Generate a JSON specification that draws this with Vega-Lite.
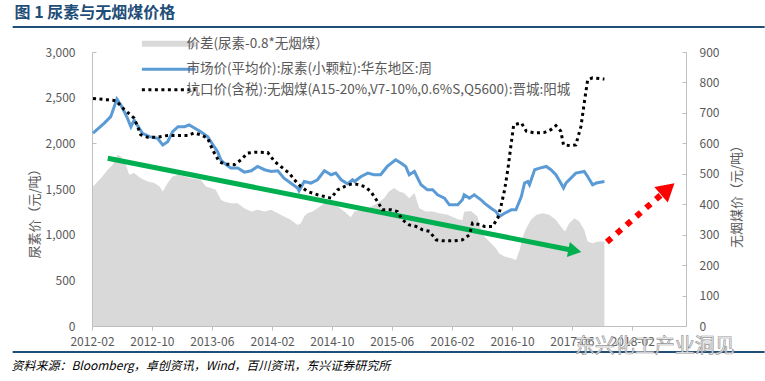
{
  "$schema": "https://vega.github.io/schema/vega-lite/v6.json",
  "width": 594,
  "height": 274,
  "autosize": {"type": "none"},
  "padding": {"left": 92, "top": 52, "right": 79, "bottom": 55},
  "background": "white",
  "config": {
    "view": {"stroke": null},
    "font": "Noto Sans CJK SC",
    "axis": {"domainColor": "#bfbfbf", "tickColor": "#bfbfbf", "labelColor": "#595959", "labelFontSize": 12, "labelFont": "Noto Sans CJK SC", "titleColor": "#595959", "titleFontWeight": "normal", "titleFontSize": 13, "titleFont": "Noto Sans CJK SC", "grid": false}
  },
  "datasets": {
    "spread": [
      {"d":"2012-02-05","v":1527},{"d":"2012-03-08","v":1619},{"d":"2012-04-05","v":1711},{"d":"2012-04-25","v":1765},{"d":"2012-05-15","v":1875},{"d":"2012-05-28","v":1857},{"d":"2012-06-17","v":1765},{"d":"2012-07-01","v":1656},{"d":"2012-07-21","v":1674},{"d":"2012-08-17","v":1619},{"d":"2012-09-14","v":1582},{"d":"2012-10-11","v":1565},{"d":"2012-11-01","v":1527},{"d":"2012-11-14","v":1473},{"d":"2012-12-04","v":1565},{"d":"2012-12-24","v":1637},{"d":"2013-01-15","v":1656},{"d":"2013-02-11","v":1637},{"d":"2013-03-08","v":1619},{"d":"2013-04-17","v":1601},{"d":"2013-05-08","v":1527},{"d":"2013-05-28","v":1510},{"d":"2013-06-17","v":1491},{"d":"2013-07-08","v":1382},{"d":"2013-07-21","v":1363},{"d":"2013-08-17","v":1345},{"d":"2013-09-14","v":1345},{"d":"2013-10-11","v":1290},{"d":"2013-11-08","v":1253},{"d":"2013-12-04","v":1272},{"d":"2014-01-01","v":1253},{"d":"2014-01-28","v":1272},{"d":"2014-02-24","v":1235},{"d":"2014-03-21","v":1199},{"d":"2014-04-17","v":1162},{"d":"2014-05-15","v":1107},{"d":"2014-05-28","v":1126},{"d":"2014-06-11","v":1199},{"d":"2014-06-24","v":1235},{"d":"2014-07-15","v":1253},{"d":"2014-08-04","v":1290},{"d":"2014-09-01","v":1345},{"d":"2014-09-28","v":1327},{"d":"2014-10-24","v":1309},{"d":"2014-11-21","v":1253},{"d":"2014-12-17","v":1190},{"d":"2015-01-01","v":1253},{"d":"2015-01-28","v":1272},{"d":"2015-02-24","v":1290},{"d":"2015-04-04","v":1345},{"d":"2015-05-01","v":1400},{"d":"2015-05-21","v":1473},{"d":"2015-06-11","v":1510},{"d":"2015-07-01","v":1473},{"d":"2015-07-21","v":1455},{"d":"2015-08-11","v":1400},{"d":"2015-09-01","v":1455},{"d":"2015-09-21","v":1290},{"d":"2015-10-17","v":1253},{"d":"2015-11-14","v":1253},{"d":"2015-12-11","v":1235},{"d":"2016-01-14","v":1217},{"d":"2016-02-24","v":1170},{"d":"2016-03-14","v":1160},{"d":"2016-03-21","v":1250},{"d":"2016-04-17","v":1260},{"d":"2016-05-14","v":1200},{"d":"2016-05-28","v":1050},{"d":"2016-06-11","v":979},{"d":"2016-07-08","v":906},{"d":"2016-07-28","v":850},{"d":"2016-08-11","v":790},{"d":"2016-09-01","v":760},{"d":"2016-09-28","v":741},{"d":"2016-10-17","v":723},{"d":"2016-11-01","v":833},{"d":"2016-11-14","v":979},{"d":"2016-11-28","v":1071},{"d":"2016-12-17","v":1162},{"d":"2017-01-08","v":1217},{"d":"2017-02-04","v":1235},{"d":"2017-03-01","v":1217},{"d":"2017-03-28","v":1162},{"d":"2017-04-17","v":1089},{"d":"2017-05-04","v":1034},{"d":"2017-05-21","v":1126},{"d":"2017-06-11","v":1180},{"d":"2017-07-01","v":1144},{"d":"2017-07-21","v":1053},{"d":"2017-08-04","v":925},{"d":"2017-08-24","v":906},{"d":"2017-09-14","v":925},{"d":"2017-10-11","v":925}
    ],
    "urea": [
      {"d":"2012-02-05","v":2113},{"d":"2012-03-21","v":2219},{"d":"2012-04-17","v":2292},{"d":"2012-05-12","v":2485},{"d":"2012-05-28","v":2420},{"d":"2012-06-11","v":2347},{"d":"2012-06-24","v":2274},{"d":"2012-07-08","v":2182},{"d":"2012-07-21","v":2255},{"d":"2012-08-11","v":2164},{"d":"2012-08-24","v":2110},{"d":"2012-09-21","v":2073},{"d":"2012-10-24","v":2055},{"d":"2012-11-14","v":1982},{"d":"2012-12-04","v":2018},{"d":"2012-12-24","v":2127},{"d":"2013-01-15","v":2182},{"d":"2013-02-11","v":2182},{"d":"2013-03-01","v":2201},{"d":"2013-03-21","v":2171},{"d":"2013-04-17","v":2127},{"d":"2013-05-15","v":2073},{"d":"2013-06-11","v":1963},{"d":"2013-06-24","v":1911},{"d":"2013-07-08","v":1818},{"d":"2013-07-21","v":1784},{"d":"2013-08-17","v":1729},{"d":"2013-09-14","v":1729},{"d":"2013-10-11","v":1685},{"d":"2013-11-08","v":1699},{"d":"2013-12-04","v":1747},{"d":"2014-01-01","v":1711},{"d":"2014-01-28","v":1692},{"d":"2014-02-24","v":1699},{"d":"2014-03-21","v":1619},{"d":"2014-04-17","v":1565},{"d":"2014-05-15","v":1510},{"d":"2014-05-21","v":1480},{"d":"2014-06-11","v":1582},{"d":"2014-07-08","v":1565},{"d":"2014-08-04","v":1601},{"d":"2014-09-01","v":1699},{"d":"2014-09-28","v":1656},{"d":"2014-10-17","v":1674},{"d":"2014-11-08","v":1601},{"d":"2014-12-04","v":1556},{"d":"2014-12-24","v":1601},{"d":"2015-01-01","v":1582},{"d":"2015-01-28","v":1637},{"d":"2015-02-24","v":1674},{"d":"2015-03-21","v":1656},{"d":"2015-04-17","v":1656},{"d":"2015-05-14","v":1747},{"d":"2015-06-17","v":1820},{"d":"2015-07-08","v":1784},{"d":"2015-07-28","v":1747},{"d":"2015-08-11","v":1656},{"d":"2015-09-01","v":1692},{"d":"2015-09-28","v":1546},{"d":"2015-10-24","v":1491},{"d":"2015-11-14","v":1491},{"d":"2015-12-04","v":1436},{"d":"2016-01-01","v":1400},{"d":"2016-01-21","v":1327},{"d":"2016-02-24","v":1327},{"d":"2016-03-14","v":1382},{"d":"2016-03-21","v":1436},{"d":"2016-04-11","v":1400},{"d":"2016-05-01","v":1436},{"d":"2016-05-28","v":1382},{"d":"2016-06-11","v":1345},{"d":"2016-07-08","v":1290},{"d":"2016-07-28","v":1253},{"d":"2016-08-11","v":1199},{"d":"2016-09-01","v":1235},{"d":"2016-09-28","v":1272},{"d":"2016-10-17","v":1272},{"d":"2016-11-08","v":1418},{"d":"2016-11-21","v":1565},{"d":"2016-12-04","v":1582},{"d":"2016-12-11","v":1546},{"d":"2017-01-01","v":1711},{"d":"2017-01-21","v":1729},{"d":"2017-02-17","v":1747},{"d":"2017-03-08","v":1711},{"d":"2017-03-28","v":1656},{"d":"2017-04-17","v":1565},{"d":"2017-04-28","v":1510},{"d":"2017-05-08","v":1565},{"d":"2017-05-28","v":1619},{"d":"2017-06-17","v":1674},{"d":"2017-07-21","v":1692},{"d":"2017-08-04","v":1637},{"d":"2017-08-24","v":1546},{"d":"2017-09-08","v":1565},{"d":"2017-10-11","v":1582}
    ],
    "coal": [
      {"d":"2012-02-05","v":747},{"d":"2012-04-05","v":743},{"d":"2012-05-08","v":740},{"d":"2012-06-11","v":711},{"d":"2012-07-21","v":683},{"d":"2012-08-17","v":628},{"d":"2012-09-14","v":620},{"d":"2012-10-24","v":620},{"d":"2012-12-04","v":626},{"d":"2013-01-15","v":626},{"d":"2013-02-24","v":626},{"d":"2013-03-21","v":634},{"d":"2013-04-17","v":628},{"d":"2013-05-15","v":617},{"d":"2013-06-04","v":579},{"d":"2013-07-01","v":540},{"d":"2013-07-21","v":532},{"d":"2013-09-01","v":530},{"d":"2013-09-28","v":546},{"d":"2013-10-24","v":568},{"d":"2013-11-21","v":571},{"d":"2014-01-14","v":570},{"d":"2014-02-11","v":540},{"d":"2014-03-08","v":524},{"d":"2014-04-11","v":502},{"d":"2014-05-08","v":475},{"d":"2014-05-28","v":458},{"d":"2014-06-24","v":442},{"d":"2014-08-04","v":431},{"d":"2014-09-28","v":420},{"d":"2014-10-24","v":447},{"d":"2014-11-21","v":458},{"d":"2014-12-17","v":466},{"d":"2015-01-08","v":466},{"d":"2015-02-11","v":458},{"d":"2015-03-08","v":442},{"d":"2015-04-04","v":409},{"d":"2015-04-24","v":382},{"d":"2015-05-28","v":382},{"d":"2015-06-24","v":376},{"d":"2015-07-14","v":349},{"d":"2015-08-11","v":332},{"d":"2015-09-08","v":327},{"d":"2015-10-04","v":316},{"d":"2015-11-01","v":311},{"d":"2015-11-28","v":283},{"d":"2015-12-24","v":280},{"d":"2016-02-11","v":280},{"d":"2016-03-14","v":283},{"d":"2016-04-11","v":299},{"d":"2016-04-24","v":338},{"d":"2016-05-28","v":332},{"d":"2016-06-11","v":327},{"d":"2016-07-14","v":327},{"d":"2016-08-04","v":354},{"d":"2016-08-17","v":392},{"d":"2016-09-01","v":447},{"d":"2016-09-14","v":513},{"d":"2016-09-28","v":601},{"d":"2016-10-08","v":661},{"d":"2016-11-08","v":667},{"d":"2016-11-28","v":640},{"d":"2017-01-01","v":634},{"d":"2017-02-11","v":636},{"d":"2017-03-08","v":645},{"d":"2017-03-28","v":658},{"d":"2017-04-17","v":640},{"d":"2017-04-28","v":595},{"d":"2017-05-28","v":592},{"d":"2017-06-17","v":595},{"d":"2017-07-08","v":656},{"d":"2017-07-21","v":732},{"d":"2017-08-04","v":809},{"d":"2017-08-24","v":815},{"d":"2017-10-11","v":811}
    ]
  },
  "layer": [
    {
      "layer": [
        {
          "data": {"name": "spread"},
          "mark": {"type": "area", "color": "#d9d9d9"},
          "encoding": {
            "x": {"field": "d", "type": "temporal",
              "scale": {"type": "utc", "nice": false, "domain": [{"year": 2012, "month": 2, "date": 1, "utc": true}, {"year": 2018, "month": 9, "date": 7, "utc": true}]},
              "axis": {"title": null, "format": "%Y-%m", "labelAngle": 0, "tickSize": 4, "labelPadding": 6, "labelFlush": false, "labelOverlap": false,
                "values": [{"year": 2012, "month": 2, "date": 1, "utc": true}, {"year": 2012, "month": 10, "date": 1, "utc": true}, {"year": 2013, "month": 6, "date": 1, "utc": true}, {"year": 2014, "month": 2, "date": 1, "utc": true}, {"year": 2014, "month": 10, "date": 1, "utc": true}, {"year": 2015, "month": 6, "date": 1, "utc": true}, {"year": 2016, "month": 2, "date": 1, "utc": true}, {"year": 2016, "month": 10, "date": 1, "utc": true}, {"year": 2017, "month": 6, "date": 1, "utc": true}, {"year": 2018, "month": 2, "date": 1, "utc": true}]}},
            "y": {"field": "v", "type": "quantitative",
              "scale": {"domain": [0, 3000], "nice": false},
              "axis": {"orient": "left", "values": [0, 500, 1000, 1500, 2000, 2500, 3000], "format": ",d", "tickSize": -4, "labelPadding": 21, "title": "尿素价（元/吨）", "titleAngle": 270, "titleX": -58, "titleY": 158, "titleAlign": "center", "titleBaseline": "middle"}}
          }
        },
        {
          "data": {"name": "urea"},
          "mark": {"type": "line", "strokeWidth": 3},
          "encoding": {
            "x": {"field": "d", "type": "temporal"},
            "y": {"field": "v", "type": "quantitative"},
            "color": {"datum": "市场价(平均价):尿素(小颗粒):华东地区:周",
              "scale": {"domain": ["价差(尿素-0.8*无烟煤）", "市场价(平均价):尿素(小颗粒):华东地区:周", "坑口价(含税):无烟煤(A15-20%,V7-10%,0.6%S,Q5600):晋城:阳城"], "range": ["#d9d9d9", "#5b9bd5", "#000000"]},
              "legend": {"orient": "none", "legendX": 70, "legendY": -15, "title": null, "direction": "vertical", "symbolType": "stroke", "symbolSize": 2888, "symbolStrokeWidth": 3, "labelFontSize": 13.5, "labelColor": "#595959", "labelFont": "Noto Sans CJK SC", "labelLimit": 600, "labelOffset": 11, "rowPadding": 5.5, "padding": 0,
                "encode": {"symbols": {"update": {
                  "strokeWidth": {"signal": "datum.value === '价差(尿素-0.8*无烟煤）' ? 6 : 3"},
                  "strokeDash": {"signal": "indexof(datum.value, '坑口价') === 0 ? [3, 3.5] : []"},
                  "strokeCap": {"value": "butt"}
                }}}}
            }
          }
        },
        {
          "data": {"values": [{}]},
          "mark": {"type": "rule", "color": "#00b050", "strokeWidth": 5},
          "encoding": {
            "x": {"datum": {"year": 2012, "month": 4, "date": 5, "utc": true}, "type": "temporal"},
            "x2": {"datum": {"year": 2017, "month": 6, "date": 13, "utc": true}},
            "y": {"datum": 1836, "type": "quantitative"},
            "y2": {"datum": 824}
          }
        },
        {
          "data": {"values": [{}]},
          "mark": {"type": "point", "shape": "triangle-right", "filled": true, "color": "#00b050", "opacity": 1, "size": 230, "angle": 11.2, "strokeWidth": 0},
          "encoding": {
            "x": {"datum": {"year": 2017, "month": 6, "date": 13, "utc": true}, "type": "temporal"},
            "y": {"datum": 824, "type": "quantitative"}
          }
        },
        {
          "data": {"values": [{}]},
          "mark": {"type": "rule", "color": "#ff0000", "strokeWidth": 6, "strokeDash": [6, 7], "strokeCap": "butt"},
          "encoding": {
            "x": {"datum": {"year": 2017, "month": 10, "date": 21, "utc": true}, "type": "temporal"},
            "x2": {"datum": {"year": 2018, "month": 6, "date": 25, "utc": true}},
            "y": {"datum": 920, "type": "quantitative"},
            "y2": {"datum": 1500}
          }
        },
        {
          "data": {"values": [{}]},
          "mark": {"type": "point", "shape": "triangle-right", "filled": true, "color": "#ff0000", "opacity": 1, "size": 420, "angle": 319, "strokeWidth": 0},
          "encoding": {
            "x": {"datum": {"year": 2018, "month": 6, "date": 25, "utc": true}, "type": "temporal"},
            "y": {"datum": 1500, "type": "quantitative"}
          }
        },
        {
          "data": {"values": [{}]},
          "mark": {"type": "rule", "color": "#1f4e79", "strokeWidth": 2},
          "encoding": {
            "x": {"datum": {"year": 2011, "month": 3, "date": 16, "utc": true}, "type": "temporal"},
            "x2": {"datum": {"year": 2019, "month": 7, "date": 23, "utc": true}},
            "y": {"datum": 3274, "type": "quantitative"}
          }
        },
        {
          "data": {"values": [{}]},
          "mark": {"type": "rule", "color": "#1f4e79", "strokeWidth": 2},
          "encoding": {
            "x": {"datum": {"year": 2011, "month": 3, "date": 16, "utc": true}, "type": "temporal"},
            "x2": {"datum": {"year": 2019, "month": 7, "date": 23, "utc": true}},
            "y": {"datum": -285, "type": "quantitative"}
          }
        },
        {
          "data": {"values": [{}]},
          "mark": {"type": "text", "text": "图 1 尿素与无烟煤价格", "align": "left", "baseline": "middle", "font": "Noto Sans CJK SC", "fontSize": 16, "fontWeight": "bold", "color": "#1f4e79"},
          "encoding": {
            "x": {"datum": {"year": 2011, "month": 3, "date": 24, "utc": true}, "type": "temporal"},
            "y": {"datum": 3427, "type": "quantitative"}
          }
        },
        {
          "data": {"values": [{}]},
          "mark": {"type": "text", "text": "资料来源：Bloomberg，卓创资讯，Wind，百川资讯，东兴证券研究所", "align": "left", "baseline": "middle", "font": "Noto Sans CJK SC", "fontSize": 12, "fontStyle": "italic", "color": "#000000"},
          "encoding": {
            "x": {"datum": {"year": 2011, "month": 3, "date": 11, "utc": true}, "type": "temporal"},
            "y": {"datum": -438, "type": "quantitative"}
          }
        },
        {
          "data": {"values": [{}]},
          "mark": {"type": "text", "text": "东兴化工产业洞见", "align": "center", "baseline": "middle", "font": "Noto Sans CJK SC", "fontSize": 20, "fill": "#ffffff", "stroke": "#8c8c8c", "strokeWidth": 0.7, "opacity": 0.9},
          "encoding": {
            "x": {"datum": {"year": 2018, "month": 5, "date": 3, "utc": true}, "type": "temporal"},
            "y": {"datum": -230, "type": "quantitative"}
          }
        }
      ]
    },
    {
      "data": {"name": "coal"},
      "mark": {"type": "line", "strokeWidth": 3, "strokeDash": [3, 3.5], "strokeCap": "butt"},
      "encoding": {
        "x": {"field": "d", "type": "temporal"},
        "y": {"field": "v", "type": "quantitative",
          "scale": {"domain": [0, 900], "nice": false},
          "axis": {"orient": "right", "values": [0, 100, 200, 300, 400, 500, 600, 700, 800, 900], "tickSize": -4, "labelPadding": 17, "title": "无烟煤价（元/吨）", "titleAngle": 270, "titleX": 50, "titleY": 141, "titleAlign": "center", "titleBaseline": "middle"}},
        "color": {"datum": "坑口价(含税):无烟煤(A15-20%,V7-10%,0.6%S,Q5600):晋城:阳城"}
      }
    }
  ],
  "resolve": {"scale": {"y": "independent"}}
}
